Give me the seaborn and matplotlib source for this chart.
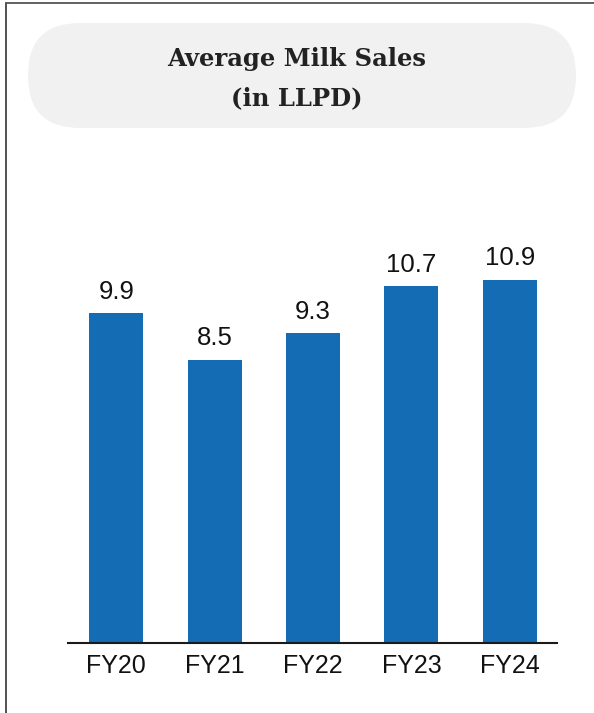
import matplotlib
matplotlib.use("Agg")
import matplotlib.pyplot as plt
import seaborn as sns
import pandas as pd
from matplotlib.patches import FancyBboxPatch
from matplotlib.lines import Line2D
from matplotlib.transforms import IdentityTransform

categories = ["FY20", "FY21", "FY22", "FY23", "FY24"]
values = [9.9, 8.5, 9.3, 10.7, 10.9]
value_labels = ["9.9", "8.5", "9.3", "10.7", "10.9"]
title_lines = ["Average Milk Sales", "(in LLPD)"]

df = pd.DataFrame({"year": categories, "sales": values})

sns.set_style("white")
plt.rcParams["font.family"] = ["Liberation Sans", "DejaVu Sans"]

W, H = 594, 713
fig = plt.figure(figsize=(W / 100, H / 100), dpi=100)

# axes: left 68px, right 557px, bottom 643px, top 243px (ylim 0..12)
ax = fig.add_axes([68 / W, 1 - 643 / H, (557 - 68) / W, 400 / H])
sns.barplot(data=df, x="year", y="sales", color="#136CB4", width=0.55,
            saturation=1, ax=ax, edgecolor="none")
ax.set_ylim(0, 12)
ax.set_xlim(-0.49, 4.48)
ax.set_xlabel("")
ax.set_ylabel("")
ax.set_yticks([])
for s in ["top", "right", "left"]:
    ax.spines[s].set_visible(False)
ax.spines["bottom"].set_color("#1a1a1a")
ax.spines["bottom"].set_linewidth(1.5)
ax.tick_params(axis="x", length=0, labelsize=18, pad=8, colors="#111111")

for i, (v, lab) in enumerate(zip(values, value_labels)):
    ax.text(i, v + 0.28, lab, ha="center", va="bottom", fontsize=18.5, color="#111111")

# title box (pill shape), pixel coordinates
box = FancyBboxPatch((28, H - 128), 576 - 28, 105,
                     boxstyle="round,pad=0,rounding_size=52",
                     transform=IdentityTransform(), facecolor="#F1F1F1",
                     edgecolor="none")
fig.patches.append(box)
fig.text(0.5, 1 - 59 / H, title_lines[0], ha="center", va="center",
         fontsize=17.5, fontweight="bold", family=["DejaVu Serif"], color="#222222")
fig.text(0.5, 1 - 98 / H, title_lines[1], ha="center", va="center",
         fontsize=17.5, fontweight="bold", family=["DejaVu Serif"], color="#222222")

# border lines (left and top)
fig.lines.append(Line2D([6 / W, 6 / W], [0, 1 - 3 / H], transform=fig.transFigure,
                        color="#444444", linewidth=1.3))
fig.lines.append(Line2D([6 / W, 1], [1 - 3 / H, 1 - 3 / H], transform=fig.transFigure,
                        color="#555555", linewidth=1.3))

fig.savefig("out.png", dpi=100)
